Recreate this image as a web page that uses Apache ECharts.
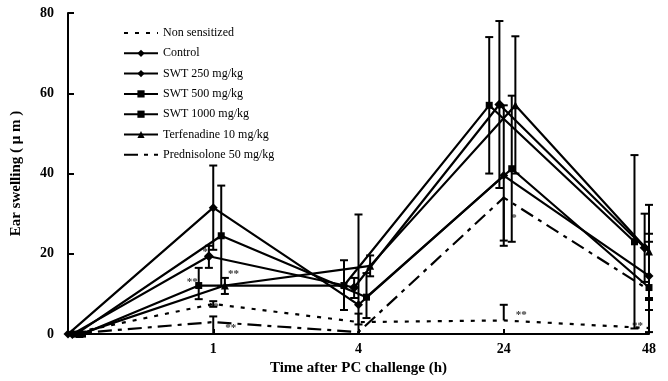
<!DOCTYPE html>
<html><head><meta charset="utf-8">
<script src="https://cdn.jsdelivr.net/npm/echarts@6/dist/echarts.min.js"></script>
<style>html,body{margin:0;padding:0;background:#fff}#c{width:668px;height:381px}</style>
</head><body><div id="c"></div>
<script>
// ---- data ----
const timeLabels = ['', '1', '4', '24', '48'];
const seriesNames = ['Non sensitized', 'Control', 'SWT 250 mg/kg', 'SWT 500 mg/kg', 'SWT 1000 mg/kg', 'Terfenadine 10 mg/kg', 'Prednisolone 50 mg/kg'];

const nonSensitized = [0, 7.5, 3.0, 3.4, 1.5];
const control       = [0, 31.5, 7.3, 39.5, 14.5];
const swt250        = [0, 19.4, 11.6, 57.2, 21.5];
const swt500        = [0, 24.5, 9.2, 41.2, 11.6];
const swt1000       = [0, 12.1, 12.1, 57.0, 23.0];
const terfenadine   = [0, 12.1, 17.0, 57.0, 20.6];
const prednisolone  = [0, 3.0, 0.5, 34.0, 11.0];

// error bars [low, high] per time point
const nonSensitizedErr = [null, [6.8, 8.2], [2.4, 5.1], [3.4, 7.3], [3.6, 8.5]];
const controlErr       = [null, [21, 42], [0, 29.8], [22, 57], [6, 25]];
const swt250Err        = [null, [16.5, 22], [9, 14], [36.4, 78], [13, 30]];
const swt500Err        = [null, [12, 37], [4, 15.2], [23, 59.4], [0.5, 23]];
const swt1000Err       = [null, [8.7, 16.5], [6, 18.4], [40, 74], [1.4, 44.6]];
const terfenadineErr   = [null, [10, 14], [14.4, 19.6], [40, 74.2], [9, 32.2]];
const prednisoloneErr  = [null, [0, 4.4], null, [23.3, 34.2], null];

// significance marks: [x position (time index), y value, text]
const annotations = [
  [0.945, 20.5, '*'], [0.855, 13.0, '**'], [1.14, 15.0, '**'], [1.0, 6.8, '**'],
  [1.12, 1.6, '**'], [3.07, 29.0, '*'], [3.12, 4.8, '**'], [3.92, 2.0, '**']
];

// ---- styling ----
const groups = [
  {name: seriesNames[0], data: nonSensitized, err: nonSensitizedErr, symbol: 'none', size: 0, dash: [4, 7], off: 0},
  {name: seriesNames[1], data: control, err: controlErr, symbol: 'diamond', size: 9, dash: 'solid', off: 0},
  {name: seriesNames[2], data: swt250, err: swt250Err, symbol: 'diamond', size: 10, dash: 'solid', off: -0.03},
  {name: seriesNames[3], data: swt500, err: swt500Err, symbol: 'rect', size: 7, dash: 'solid', off: 0.055},
  {name: seriesNames[4], data: swt1000, err: swt1000Err, symbol: 'rect', size: 7, dash: 'solid', off: -0.1},
  {name: seriesNames[5], data: terfenadine, err: terfenadineErr, symbol: 'triangle', size: 8, dash: 'solid', off: 0.08},
  {name: seriesNames[6], data: prednisolone, err: prednisoloneErr, symbol: 'none', size: 0, dash: [14, 6, 4, 6], off: 0}
];

function xPos(i, off) { return i === 0 ? Math.abs(off) : Math.min(i + off, 4); }

function errRender(params, api) {
  const x = api.value(0), lo = api.value(1), hi = api.value(2), m = api.value(3);
  const p1 = api.coord([x, lo]), p2 = api.coord([x, hi]);
  const w = 4;
  const ch = [
    {type: 'line', shape: {x1: p1[0], y1: p1[1], x2: p2[0], y2: p2[1]}, style: {stroke: '#000', lineWidth: 2}}
  ];
  if (hi > m + 0.3) ch.push({type: 'line', shape: {x1: p2[0] - w, y1: p2[1], x2: p2[0] + w, y2: p2[1]}, style: {stroke: '#000', lineWidth: 2}});
  if (lo < m - 0.3 && lo > 0.2) ch.push({type: 'line', shape: {x1: p1[0] - w, y1: p1[1], x2: p1[0] + w, y2: p1[1]}, style: {stroke: '#000', lineWidth: 2}});
  return {type: 'group', children: ch};
}

const series = [];
groups.forEach(g => {
  series.push({
    name: g.name, type: 'line',
    data: g.data.map((v, i) => [xPos(i, g.off), v]),
    symbol: g.symbol, symbolSize: g.size, showSymbol: g.symbol !== 'none',
    lineStyle: {color: '#000', width: 2.2, type: g.dash},
    itemStyle: {color: '#000'},
    z: 3, animation: false
  });
  const ed = [];
  g.err.forEach((e, i) => { if (e) ed.push([xPos(i, g.off), e[0], e[1], g.data[i]]); });
  series.push({
    type: 'custom', renderItem: errRender, data: ed,
    encode: {x: 0, y: [1, 2]}, silent: true, z: 2, animation: false
  });
});
series.push({
  type: 'scatter', symbolSize: 0, data: annotations, silent: true, animation: false,
  label: {show: true, position: 'inside', formatter: p => p.data[2], color: '#000',
          fontFamily: 'Liberation Serif', fontWeight: 'bold', fontSize: 11}
});

const legendData = groups.map(g => g.symbol === 'none'
  ? {name: g.name, itemStyle: {opacity: 0}}
  : {name: g.name});

const chart = echarts.init(document.getElementById('c'), null, {renderer: 'canvas'});
chart.setOption({
  backgroundColor: '#fff',
  animation: false,
  grid: {left: 68, right: 19, top: 13, bottom: 38, containLabel: false},
  legend: {
    data: legendData, orient: 'vertical', left: 118, top: 22,
    itemWidth: 34, itemHeight: 9, itemGap: 8.3,
    textStyle: {fontFamily: 'Liberation Serif', fontSize: 12, color: '#000'},
    inactiveColor: '#000'
  },
  xAxis: {
    type: 'value', min: 0, max: 4, interval: 1,
    axisLine: {lineStyle: {color: '#000', width: 2}},
    axisTick: {inside: true, length: 5, lineStyle: {color: '#000', width: 2}},
    axisLabel: {formatter: v => timeLabels[v] || '', color: '#000', fontFamily: 'Liberation Serif',
                fontWeight: 'bold', fontSize: 14, margin: 8},
    splitLine: {show: false},
    name: 'Time after PC challenge (h)', nameLocation: 'middle', nameGap: 20,
    nameTextStyle: {color: '#000', fontFamily: 'Liberation Serif', fontWeight: 'bold', fontSize: 15}
  },
  yAxis: {
    type: 'value', min: 0, max: 80, interval: 20,
    axisLine: {show: true, lineStyle: {color: '#000', width: 2}},
    axisTick: {show: true, inside: true, length: 6, lineStyle: {color: '#000', width: 2}},
    axisLabel: {color: '#000', fontFamily: 'Liberation Serif', fontWeight: 'bold', fontSize: 14, margin: 14},
    splitLine: {show: false},
    name: 'Ear swelling ( μ m )', nameLocation: 'middle', nameGap: 44,
    nameTextStyle: {color: '#000', fontFamily: 'Liberation Serif', fontWeight: 'bold', fontSize: 15}
  },
  series: series
});
</script>
</body></html>
